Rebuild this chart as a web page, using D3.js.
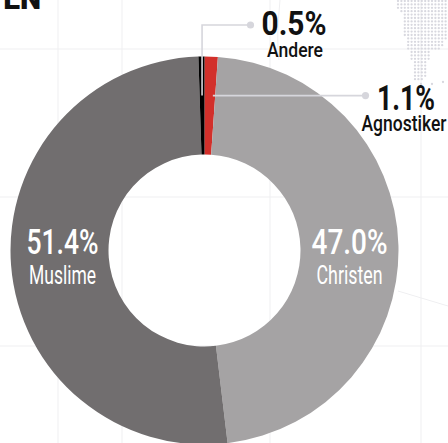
<!DOCTYPE html>
<html><head><meta charset="utf-8">
<script src="https://cdn.jsdelivr.net/npm/d3@7"></script>
<style>html,body{margin:0;padding:0;background:#fff;}svg{display:block;}</style>
</head><body>
<svg id="c" width="448" height="443"></svg>
<script>
const categories = ["Agnostiker", "Christen", "Muslime", "Andere"];
const values = [1.1, 47.0, 51.4, 0.5];
const labels = ["1.1%", "47.0%", "51.4%", "0.5%"];
const colors = ["#d2302b", "#a5a3a4", "#716e6f", "#000000"];

const W = 448, H = 443;
const cx = 204.5, cy = 250.5, R = 194, r = 96;
const svg = d3.select("#c");

// faint background grid
const g0 = svg.append("g").attr("stroke", "#efeff1").attr("stroke-width", 1).attr("fill", "none");
[49, 197, 346].forEach(y => g0.append("line").attr("x1", 0).attr("x2", W).attr("y1", y).attr("y2", y));
[58, 122, 270, 421].forEach(x => g0.append("line").attr("x1", x).attr("x2", x).attr("y1", 0).attr("y2", H));
g0.append("path").attr("d", "M280,0 Q276,40 279,60");
g0.append("line").attr("x1", 398).attr("y1", 291).attr("x2", 448).attr("y2", 306);

// dotted map fragment (decoration)
const poly = [[397,0],[448,0],[448,30],[446,40],[443,48],[432,51],[429,58],[427,67],[425,80],[413,80],[413,66],[411,58],[408,48],[405,40],[404,30],[403,15],[397,8]];
const dots = svg.append("g").attr("fill", "#d8d8df");
for (let x = 398; x < W; x += 3.4) {
  for (let y = 1; y < 82; y += 3.4) {
    if (d3.polygonContains(poly, [x, y])) dots.append("circle").attr("cx", x).attr("cy", y).attr("r", 1.15);
  }
}
[[421,84],[432,84],[443,82]].forEach(p => dots.append("circle").attr("cx", p[0]).attr("cy", p[1]).attr("r", 1.15));

// title fragment
svg.append("text").attr("x", 41).attr("y", 9).attr("text-anchor", "end")
  .attr("font-family", "Roboto, 'DejaVu Sans'").attr("font-weight", 900).attr("font-size", 30)
  .attr("fill", "#111").text("EN");

// donut
const pie = d3.pie().sort(null).value(d => d)(values);
const arc = d3.arc().innerRadius(r).outerRadius(R);
const g = svg.append("g").attr("transform", `translate(${cx},${cy})`);
g.selectAll("path").data(pie).join("path").attr("d", arc).attr("fill", (d, i) => colors[i]);

function txt(parent, x, y, s, size, w, weight, fill) {
  return parent.append("text").attr("x", x).attr("y", y).attr("text-anchor", "middle")
    .attr("font-family", "Roboto, 'Liberation Sans Narrow', sans-serif")
    .attr("font-size", size).attr("font-weight", weight).attr("fill", fill)
    .attr("textLength", w).attr("lengthAdjust", "spacingAndGlyphs").text(s);
}

// inside labels (Christen right, Muslime left)
const midR = (R + r) / 2;
txt(g, -midR + 3, 3, labels[2], 35, 72, 500, "#fff");
txt(g, -midR + 3, 33, categories[2], 25, 67, 400, "#fff");
txt(g, midR, 3, labels[1], 35, 76, 500, "#fff");
txt(g, midR, 33, categories[1], 25, 66, 400, "#fff");

// leader lines
const leaderR = 155;
const pt = (a, rad) => [Math.sin(a) * rad, -Math.cos(a) * rad];
const lg = g.append("g").attr("stroke", "#d6d6dc").attr("stroke-width", 1.6).attr("fill", "none");
const dg = g.append("g").attr("fill", "#d6d6dc");
// Andere
const aA = (pie[3].startAngle + pie[3].endAngle) / 2;
const pA = pt(aA, leaderR);
const yA = 25 - cy;
lg.append("path").attr("d", `M${pA[0]},${pA[1]} L${pA[0]},${yA} L${250 - cx},${yA}`);
dg.append("circle").attr("cx", 250.5 - cx).attr("cy", yA).attr("r", 3.6);
txt(svg, 294, 35, labels[3], 34, 65, 700, "#111");
txt(svg, 295, 57, categories[3], 21, 56, 500, "#111");
// Agnostiker
const aG = (pie[0].startAngle + pie[0].endAngle) / 2;
const pG = pt(aG, leaderR);
lg.append("path").attr("d", `M${pG[0] + 3},${pG[1]} L${362 - cx},${pG[1]}`);
dg.append("circle").attr("cx", 365.5 - cx).attr("cy", pG[1]).attr("r", 3.6);
txt(svg, 406, 110, labels[0], 35, 58, 700, "#111");
txt(svg, 404, 131, categories[0], 22, 85, 500, "#111");
</script>
</body></html>
